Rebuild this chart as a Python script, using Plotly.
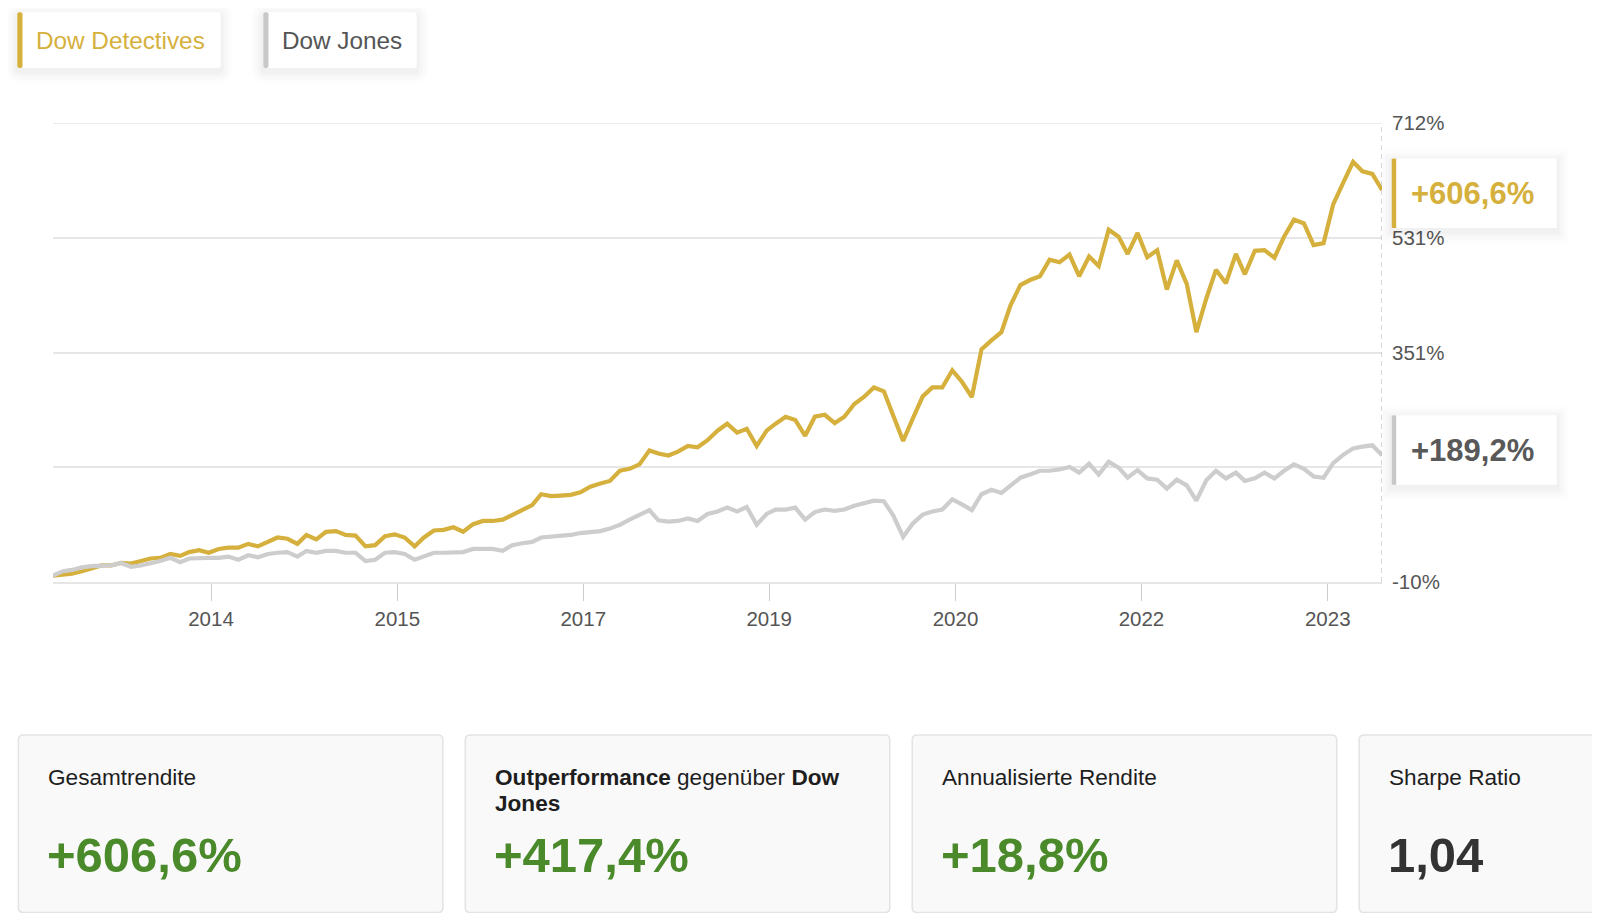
import plotly.graph_objects as go
import pandas as pd

# ---------------- data ----------------
months = pd.date_range("2013-01-01", periods=137, freq="MS")

dow_detectives = [
    0, 2, 3, 7, 11, 16, 16, 20, 19, 23,
    27, 28, 34, 31, 37, 40, 36, 42, 44, 44,
    50, 46, 53, 60, 58, 50, 64, 57, 69, 70,
    64, 63, 46, 48, 62, 65, 60, 46, 60, 71,
    72, 76, 69, 81, 86, 86, 88, 95, 103, 111,
    128, 125, 126, 127, 131, 140, 145, 149, 165, 168,
    175, 197, 192, 189, 195, 204, 202, 213, 228, 239,
    225, 231, 204, 228, 239, 250, 245, 220, 250, 253,
    240, 250, 270, 281, 296, 290, 252, 212, 247, 282,
    296, 296, 323, 305, 281, 356, 370, 383, 425, 457,
    465, 471, 497, 493, 505, 471, 502, 487, 544, 533,
    506, 539, 501, 512, 450, 496, 459, 383, 436, 481,
    460, 506, 474, 511, 512, 500, 533, 560, 554, 520,
    523, 584, 618, 651, 636, 632, 606.6,
]

dow_jones = [
    0, 7, 9, 13, 15, 16, 16, 20, 14, 16,
    19, 23, 28, 21, 27, 28, 28, 28, 30, 25,
    32, 29, 34, 36, 37, 30, 39, 36, 39, 39,
    36, 36, 23, 25, 36, 37, 34, 25, 30, 36,
    36, 36, 37, 42, 42, 42, 39, 48, 51, 53,
    60, 61, 62, 64, 67, 69, 70, 74, 80, 88,
    96, 103, 87, 85, 86, 90, 86, 97, 101, 107,
    101, 108, 80, 97, 104, 104, 107, 88, 100, 104,
    102, 104, 110, 114, 118, 117, 95, 61, 82, 96,
    101, 104, 120, 112, 103, 128, 135, 130, 142, 154,
    159, 165, 165, 167, 171, 162, 176, 159, 179, 170,
    154, 166, 153, 151, 137, 151, 142, 118, 150, 165,
    153, 162, 149, 153, 162, 153, 165, 175, 168, 156,
    154, 177, 190, 200, 203, 205, 189.2,
]

series_names = ["Dow Detectives", "Dow Jones"]
end_labels = ["+606,6%", "+189,2%"]

x_tick_dates = ["2014-05-08", "2015-12-09", "2017-07-10", "2019-02-09",
                "2020-09-11", "2022-04-13", "2023-11-14"]
y_tick_values = [-10, 170.5, 351, 531.5, 712]
# the 170.5 label is hidden behind the Dow Jones end box in the reference
y_tick_labels = ["-10%", "", "351%", "531%", "712%"]

card_titles = ["Gesamtrendite",
               "<b>Outperformance</b> gegenüber <b>Dow</b>",
               "Annualisierte Rendite",
               "Sharpe Ratio"]
card_title_line2 = ["", "<b>Jones</b>", "", ""]
card_values = ["+606,6%", "+417,4%", "+18,8%", "1,04"]

# ---------------- style ----------------
GOLD = "#D5B03C"
GRAY = "#CDCDCD"
GREEN = "#4A8A2A"
GRID = "#e6e6e6"
FONT = "Liberation Sans, Arial, Helvetica, sans-serif"

# plot area in page pixels (page has 8px body margin)
PL, PR, PT, PB = 53.0, 1382.0, 122.7, 581.7
W, H = 1584, 905
OFF = 8


def px(X):
    return (X - PL) / (PR - PL)


def py(Y):
    return (PB - Y) / (PB - PT)


def rrect(x0, y0, x1, y1, r):
    def P(X, Y):
        return f"{px(X):.6f},{py(Y):.6f}"
    return " ".join([
        f"M {P(x0 + r, y0)}", f"L {P(x1 - r, y0)}", f"Q {P(x1, y0)} {P(x1, y0 + r)}",
        f"L {P(x1, y1 - r)}", f"Q {P(x1, y1)} {P(x1 - r, y1)}",
        f"L {P(x0 + r, y1)}", f"Q {P(x0, y1)} {P(x0, y1 - r)}",
        f"L {P(x0, y0 + r)}", f"Q {P(x0, y0)} {P(x0 + r, y0)} Z",
    ])


fig = go.Figure()
fig.add_trace(go.Scatter(x=months, y=dow_detectives, mode="lines", name=series_names[0],
                         line=dict(color=GOLD, width=4.2), hoverinfo="skip"))
fig.add_trace(go.Scatter(x=months, y=dow_jones, mode="lines", name=series_names[1],
                         line=dict(color=GRAY, width=4.2), hoverinfo="skip"))

fig.update_layout(
    width=W, height=H,
    margin=dict(l=PL - OFF, r=W - (PR - OFF), t=PT - OFF, b=H - (PB - OFF), pad=0),
    paper_bgcolor="white", plot_bgcolor="white", showlegend=False,
    font=dict(family=FONT, color="#555555"),
)
fig.update_xaxes(
    type="date", range=[months[0], months[-1]],
    tickvals=x_tick_dates, tickformat="%Y",
    ticks="outside", ticklen=17, tickcolor="#cccccc", tickwidth=1,
    showgrid=False, zeroline=False,
    showline=True, linecolor=GRID, linewidth=1.5,
    tickfont=dict(size=20.5, color="#555555", family=FONT), ticklabelstandoff=1,
)
fig.update_yaxes(
    side="right", range=[-10, 712],
    tickvals=y_tick_values, ticktext=y_tick_labels,
    showgrid=True, gridcolor=GRID, gridwidth=1.5, zeroline=False,
    showline=False, ticks="",
    tickfont=dict(size=20.5, color="#555555", family=FONT), ticklabelstandoff=9,
)

shapes = []
annotations = []

# top gridline (at the range maximum)
shapes.append(dict(type="line", xref="paper", yref="y", x0=0, x1=1, y0=712, y1=712,
                   line=dict(color=GRID, width=1.5), layer="below"))

# dashed end line
shapes.append(dict(type="line", xref="x", yref="y", x0=months[-1], x1=months[-1],
                   y0=-10, y1=712, line=dict(color="#c4c4c4", width=1.3, dash="5px,4px"),
                   layer="above"))


def shadow(x0, y0, x1, y1, r):
    for g, a in [(12, 0.008), (9, 0.010), (6, 0.014), (3, 0.020)]:
        shapes.append(dict(type="path", xref="paper", yref="paper",
                           path=rrect(x0 - g, y0 - g + 3, x1 + g, y1 + g + 3, r + g),
                           fillcolor=f"rgba(0,0,0,{a})", line=dict(width=0), layer="above"))


# legend buttons
legend_boxes = [(17.3, 220.7, GOLD, GOLD), (263.3, 416.7, "#C8C8C8", "#555555")]
for (bx0, bx1, barc, txtc), name in zip(legend_boxes, series_names):
    shadow(bx0, 12, bx1, 67.7, 3)
    shapes.append(dict(type="path", xref="paper", yref="paper", path=rrect(bx0, 12, bx1, 67.7, 3),
                       fillcolor="white", line=dict(width=0), layer="above"))
    shapes.append(dict(type="path", xref="paper", yref="paper", path=rrect(bx0, 12, bx0 + 5.2, 67.7, 2),
                       fillcolor=barc, line=dict(width=0), layer="above"))
    annotations.append(dict(x=px(bx0 + 17.0), y=py(39.8), xref="paper", yref="paper",
                            text=name, showarrow=False, xanchor="left", yanchor="middle",
                            font=dict(size=24.3, color=txtc, family=FONT)))

# end-value boxes (anchored at last values)
end_vals = [dow_detectives[-1], dow_jones[-1]]
end_cfg = [(GOLD, GOLD, -3.3), ("#C8C8C8", "#595959", 5.3)]
for val, lab, (barc, txtc, c) in zip(end_vals, end_labels, end_cfg):
    for g, a in [(12, 0.008), (9, 0.010), (6, 0.014), (3, 0.020)]:
        shapes.append(dict(type="rect", xref="paper", yref="y", ysizemode="pixel", yanchor=val,
                           x0=px(1391.7 - g), x1=px(1556.7 + g),
                           y0=c - 34.7 - g - 3, y1=c + 34.7 + g - 3,
                           fillcolor=f"rgba(0,0,0,{a})", line=dict(width=0), layer="above"))
    shapes.append(dict(type="rect", xref="paper", yref="y", ysizemode="pixel", yanchor=val,
                       x0=px(1391.7), x1=px(1556.7), y0=c - 34.7, y1=c + 34.7,
                       fillcolor="white", line=dict(width=0), layer="above"))
    shapes.append(dict(type="rect", xref="paper", yref="y", ysizemode="pixel", yanchor=val,
                       x0=px(1391.7), x1=px(1396.2), y0=c - 34.7, y1=c + 34.7,
                       fillcolor=barc, line=dict(width=0), layer="above"))
    annotations.append(dict(x=px(1409.0), y=val, xref="paper", yref="y", yshift=c,
                            text=f"<b>{lab}</b>", showarrow=False, xanchor="left", yanchor="middle",
                            font=dict(size=31, color=txtc, family=FONT)))

# bottom cards
card_x0 = [18.4, 465.3, 912.2, 1359.2]
CW = 424.5
CY0, CY1 = 734.7, 912.3
value_colors = [GREEN, GREEN, GREEN, "#333333"]
for x0, t1, t2, v, vc in zip(card_x0, card_titles, card_title_line2, card_values, value_colors):
    shapes.append(dict(type="path", xref="paper", yref="paper", path=rrect(x0, CY0, x0 + CW, CY1, 5),
                       fillcolor="#f9f9f9", line=dict(color="#e3e3e3", width=1.5), layer="above"))
    annotations.append(dict(x=px(x0 + 27.5), y=py(777.0), xref="paper", yref="paper",
                            text=t1, showarrow=False, xanchor="left", yanchor="middle",
                            font=dict(size=22.6, color="#1e1e1e", family=FONT)))
    if t2:
        annotations.append(dict(x=px(x0 + 27.5), y=py(803.5), xref="paper", yref="paper",
                                text=t2, showarrow=False, xanchor="left", yanchor="middle",
                                font=dict(size=22.6, color="#1e1e1e", family=FONT)))
    annotations.append(dict(x=px(x0 + 27), y=py(855.0), xref="paper", yref="paper",
                            text=f"<b>{v}</b>", showarrow=False, xanchor="left", yanchor="middle",
                            font=dict(size=49, color=vc, family=FONT)))

fig.update_layout(shapes=shapes, annotations=annotations)

fig.write_html("out.html")
